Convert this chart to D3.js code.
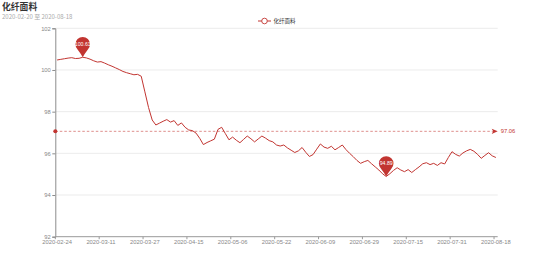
<!DOCTYPE html>
<html>
<head>
<meta charset="utf-8">
<script src="https://cdn.jsdelivr.net/npm/d3@7"></script>
<style>
  body { margin: 0; background: #fff; }
  svg { display: block; }
</style>
</head>
<body>
<div id="chart"></div>
<script>
// 化纤面料 daily index, trading days only

const dates = [
  "2020-02-24","2020-02-25","2020-02-26","2020-02-27","2020-02-28",
  "2020-03-02","2020-03-03","2020-03-04","2020-03-05","2020-03-06","2020-03-09","2020-03-10","2020-03-11",
  "2020-03-12","2020-03-13","2020-03-16","2020-03-17","2020-03-18","2020-03-19","2020-03-20","2020-03-23",
  "2020-03-24","2020-03-25","2020-03-26","2020-03-27","2020-03-30","2020-03-31",
  "2020-04-01","2020-04-02","2020-04-03","2020-04-07","2020-04-08","2020-04-09","2020-04-10","2020-04-13",
  "2020-04-14","2020-04-15","2020-04-16","2020-04-17","2020-04-20","2020-04-21","2020-04-22","2020-04-23",
  "2020-04-24","2020-04-27","2020-04-28","2020-04-29","2020-04-30",
  "2020-05-06","2020-05-07","2020-05-08","2020-05-11","2020-05-12","2020-05-13","2020-05-14","2020-05-15",
  "2020-05-18","2020-05-19","2020-05-20","2020-05-21","2020-05-22","2020-05-25","2020-05-26","2020-05-27",
  "2020-05-28","2020-05-29",
  "2020-06-01","2020-06-02","2020-06-03","2020-06-04","2020-06-05","2020-06-08","2020-06-09","2020-06-10",
  "2020-06-11","2020-06-12","2020-06-15","2020-06-16","2020-06-17","2020-06-18","2020-06-19","2020-06-22",
  "2020-06-23","2020-06-24","2020-06-29","2020-06-30",
  "2020-07-01","2020-07-02","2020-07-03","2020-07-06","2020-07-07","2020-07-08","2020-07-09","2020-07-10",
  "2020-07-13","2020-07-14","2020-07-15","2020-07-16","2020-07-17","2020-07-20","2020-07-21","2020-07-22",
  "2020-07-23","2020-07-24","2020-07-27","2020-07-28","2020-07-29","2020-07-30","2020-07-31",
  "2020-08-03","2020-08-04","2020-08-05","2020-08-06","2020-08-07","2020-08-10","2020-08-11","2020-08-12",
  "2020-08-13","2020-08-14","2020-08-17","2020-08-18"
];

const values = [
  100.48, 100.51, 100.54, 100.57, 100.59, 100.55, 100.56, 100.61, 100.58, 100.52,
  100.44, 100.38, 100.40, 100.33, 100.25, 100.18, 100.10, 100.02, 99.93, 99.87,
  99.82, 99.77, 99.79, 99.70, 98.95, 98.20, 97.60, 97.36, 97.45, 97.54,
  97.62, 97.50, 97.57, 97.34, 97.46, 97.25, 97.12, 97.09, 96.97, 96.72,
  96.42, 96.52, 96.60, 96.68, 97.15, 97.25, 96.95, 96.65, 96.78, 96.63,
  96.51, 96.67, 96.83, 96.70, 96.55, 96.69, 96.83, 96.73, 96.61, 96.55,
  96.40, 96.35, 96.40, 96.26, 96.15, 96.04, 96.12, 96.28, 96.05, 95.85,
  95.94, 96.20, 96.45, 96.30, 96.24, 96.34, 96.17, 96.28, 96.40, 96.18,
  96.00, 95.84, 95.66, 95.52, 95.60, 95.66, 95.50, 95.35, 95.20, 95.02,
  94.89, 95.02, 95.18, 95.31, 95.20, 95.12, 95.22, 95.08, 95.22, 95.35,
  95.50, 95.55, 95.46, 95.52, 95.42, 95.55, 95.49, 95.80, 96.08, 95.95,
  95.87, 96.02, 96.12, 96.19, 96.10, 95.95, 95.76, 95.90, 96.03, 95.88,
  95.80
];

const yTicks = [92, 94, 96, 98, 100, 102];
const labelEvery = 12;

const seriesName = "化纤面料";
const title = "化纤面料";
const subtitle = "2020-02-20 至 2020-08-18";

const width = 554;
const height = 265;
const margin = { top: 28.3, right: 56.3, bottom: 28.3, left: 55.3 };
const red = "#c23531";
const numFont = "'Liberation Sans', Arial, sans-serif";
const cjkFont = "'Noto Sans CJK SC', 'Noto Sans', sans-serif";

const svg = d3.select("#chart").append("svg")
  .attr("width", width)
  .attr("height", height);

const x = d3.scaleBand()
  .domain(dates)
  .range([margin.left, width - margin.right])
  .padding(0);

const y = d3.scaleLinear()
  .domain([d3.min(yTicks), d3.max(yTicks)])
  .range([height - margin.bottom, margin.top]);

const cx = d => x(d) + x.bandwidth() / 2;

// grid
svg.append("g")
  .selectAll("line")
  .data(yTicks.slice(1))
  .join("line")
  .attr("x1", margin.left)
  .attr("x2", width - margin.right)
  .attr("y1", d => y(d))
  .attr("y2", d => y(d))
  .attr("stroke", "#e6e6e6")
  .attr("stroke-width", 0.8);

// y axis
const yAxis = svg.append("g")
  .attr("transform", `translate(${margin.left},0)`)
  .call(d3.axisLeft(y).tickValues(yTicks).tickSize(3).tickPadding(1.5));
yAxis.select(".domain").attr("stroke", "#8c8c8c");
yAxis.selectAll(".tick line").attr("stroke", "#8c8c8c");
yAxis.selectAll(".tick text")
  .attr("fill", "#888")
  .style("font", `5.8px ${numFont}`);

// x axis
const shown = dates.filter((d, i) => i % labelEvery === 0);
const xAxisG = svg.append("g")
  .attr("transform", `translate(0,${height - margin.bottom})`);
xAxisG.append("line")
  .attr("x1", margin.left)
  .attr("x2", width - margin.right)
  .attr("stroke", "#999")
  .attr("stroke-width", 1);
xAxisG.selectAll("line.tk")
  .data(shown)
  .join("line")
  .attr("class", "tk")
  .attr("x1", d => x(d))
  .attr("x2", d => x(d))
  .attr("y1", 0)
  .attr("y2", 2.5)
  .attr("stroke", "#999");
xAxisG.selectAll("text")
  .data(shown)
  .join("text")
  .attr("x", d => cx(d))
  .attr("y", 7.8)
  .attr("text-anchor", "middle")
  .attr("fill", "#888")
  .style("font", `5.8px ${numFont}`)
  .text(d => d);

// line
const line = d3.line()
  .x((d, i) => cx(dates[i]))
  .y(d => y(d));

svg.append("path")
  .datum(values)
  .attr("fill", "none")
  .attr("stroke", red)
  .attr("stroke-width", 1)
  .attr("stroke-linejoin", "round")
  .attr("d", line);

// average markLine
const avg = d3.mean(values);
const ay = y(avg);
const lineEnd = width - margin.right;
svg.append("line")
  .attr("x1", margin.left)
  .attr("x2", lineEnd - 3)
  .attr("y1", ay)
  .attr("y2", ay)
  .attr("stroke", red)
  .attr("stroke-opacity", 0.8)
  .attr("stroke-width", 0.7)
  .attr("stroke-dasharray", "2.5,2");
svg.append("circle")
  .attr("cx", margin.left)
  .attr("cy", ay)
  .attr("r", 2)
  .attr("fill", red);
svg.append("path")
  .attr("d", `M${lineEnd},${ay} L${lineEnd - 6},${ay - 2.6} L${lineEnd - 4.5},${ay} L${lineEnd - 6},${ay + 2.6} Z`)
  .attr("fill", red);
svg.append("text")
  .attr("x", lineEnd + 3)
  .attr("y", ay)
  .attr("dy", "0.35em")
  .attr("fill", red)
  .style("font", `5.8px ${numFont}`)
  .text(avg.toFixed(2));

// max / min pins
function pinPath(r, h) {
  const t = Math.PI / 4;
  const sx = r * Math.sin(t), sy = -h + r * Math.cos(t);
  return `M0,0 Q${-sx * 0.35},${sy * 0.45} ${-sx},${sy} A${r},${r} 0 1 1 ${sx},${sy} Q${sx * 0.35},${sy * 0.45} 0,0 Z`;
}
const iMax = d3.maxIndex(values);
const iMin = d3.minIndex(values);
const pins = [iMax, iMin];

const pin = svg.append("g")
  .selectAll("g")
  .data(pins)
  .join("g")
  .attr("transform", i => `translate(${cx(dates[i])},${y(values[i])})`);
pin.append("path")
  .attr("d", pinPath(7.3, 13))
  .attr("fill", red);
pin.append("text")
  .attr("y", -13)
  .attr("dy", "0.35em")
  .attr("text-anchor", "middle")
  .attr("fill", "#fff")
  .style("font", `5.2px ${numFont}`)
  .text(i => String(values[i]));

// title
svg.append("text")
  .attr("x", 2)
  .attr("y", 10)
  .attr("fill", "#333")
  .style("font", `bold 8.8px ${cjkFont}`)
  .text(title);
svg.append("text")
  .attr("x", 2)
  .attr("y", 19.3)
  .attr("fill", "#aaa")
  .style("font", `6px ${cjkFont}`)
  .text(subtitle);

// legend
const lg = svg.append("g").attr("transform", "translate(258,21)");
lg.append("line")
  .attr("x1", 0).attr("x2", 13)
  .attr("stroke", red).attr("stroke-width", 1);
lg.append("circle")
  .attr("cx", 6.5).attr("r", 2.8)
  .attr("fill", "#fff").attr("stroke", red).attr("stroke-width", 0.9);
lg.append("text")
  .attr("x", 15.5)
  .attr("dy", "0.35em")
  .attr("fill", "#333")
  .style("font", `5.5px ${cjkFont}`)
  .text(seriesName);
</script>
</body>
</html>
